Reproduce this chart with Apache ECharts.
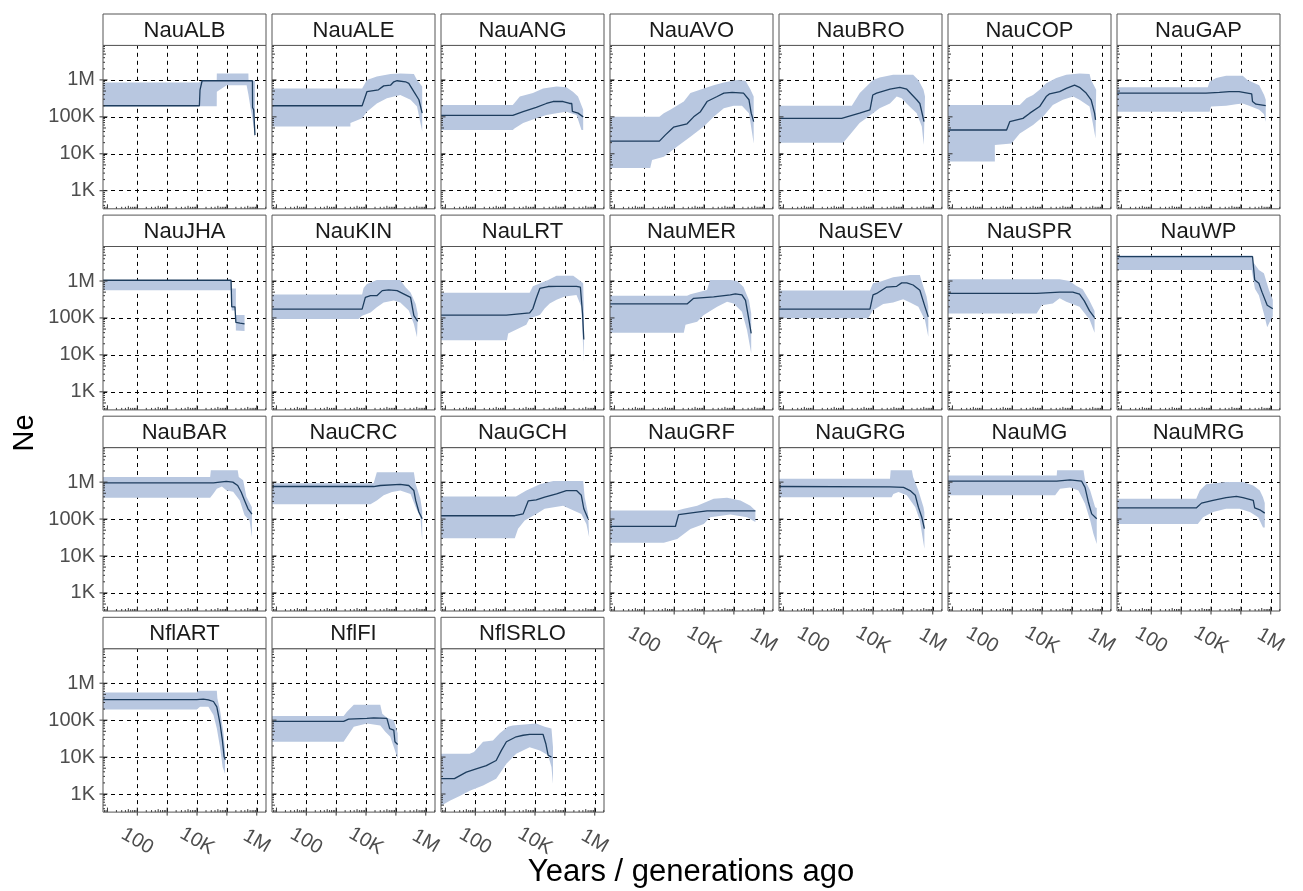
<!DOCTYPE html>
<html><head><meta charset="utf-8">
<script src="https://cdn.jsdelivr.net/npm/echarts@6/dist/echarts.min.js"></script>
<style>html,body{margin:0;padding:0;background:#fff}#chart{width:1303px;height:891px}</style>
</head><body><div id="chart"></div>
<script>
// ---------- axis ranges & tick labels ----------
const X_MIN = 7.1, X_MAX = 2.04e6;
const Y_MIN = 324, Y_MAX = 8.6e6;
const X_GRID = [100, 1e3, 1e4, 1e5, 1e6];
const X_LABELS = {100: '100', 10000: '10K', 1000000: '1M'};
const Y_GRID = [1e3, 1e4, 1e5, 1e6];
const Y_LABELS = {1000: '1K', 10000: '10K', 100000: '100K', 1000000: '1M'};
const LOG_MANTISSA = [1, 2, 3, 4, 5, 6, 7, 8, 9];
const X_TITLE = 'Years / generations ago';
const Y_TITLE = 'Ne';

// ---------- data: [years ago, Ne] ----------
const NauALB_ne = [[7.1,2.0e5],[1.2e4,2.0e5],[1.26e4,5.4e5],[1.48e4,9.5e5],[7.16e5,9.5e5],[7.24e5,1.8e5],[7.9e5,1.55e5],[8.7e5,3.2e4]];
const NauALB_lo = [[7.1,1.95e5],[4.57e4,1.95e5],[4.6e4,4.8e5],[9.8e4,7.2e5],[4.57e5,7.2e5],[5.25e5,4.0e5],[6.3e5,1.6e5],[7.2e5,8.9e4],[7.9e5,5.0e4],[8.7e5,2.8e4]];
const NauALB_hi = [[7.1,8.5e5],[1.2e4,8.5e5],[1.26e4,9.3e5],[4.57e4,1.0e6],[4.6e4,1.5e6],[5.25e5,1.5e6],[5.3e5,1.0e6],[8.7e5,9.5e5]];

const NauALE_ne = [[7.1,2.0e5],[7.4e3,2.0e5],[1.07e4,4.8e5],[2.6e4,5.4e5],[3.9e4,6.9e5],[6.6e4,7.2e5],[8.5e4,8.9e5],[1.1e5,9.5e5],[2.1e5,8.9e5],[2.7e5,8.1e5],[4.0e5,4.8e5],[5.9e5,2.9e5],[7.6e5,1.26e5]];
const NauALE_lo = [[7.1,5.5e4],[3.0e3,5.5e4],[3.0e3,6.8e4],[7.4e3,9.1e4],[1.07e4,1.38e5],[2.3e4,2.3e5],[5.0e4,3.2e5],[1.4e5,3.9e5],[3.1e5,2.9e5],[5.1e5,1.9e5],[7.6e5,4.0e4]];
const NauALE_hi = [[7.1,5.9e5],[7.4e3,5.9e5],[1.07e4,1.0e6],[2.3e4,1.23e6],[6.6e4,1.45e6],[1.4e5,1.5e6],[4.0e5,1.45e6],[5.1e5,1.0e6],[7.6e5,6.6e5]];

const NauANG_ne = [[7.1,1.1e5],[1.8e3,1.1e5],[4.0e3,1.38e5],[1.1e4,1.8e5],[2.4e4,2.3e5],[4.0e4,2.6e5],[8.7e4,2.6e5],[1.45e5,2.3e5],[1.7e5,2.3e5],[1.78e5,1.4e5],[2.75e5,1.26e5],[4.1e5,1.0e5]];
const NauANG_lo = [[7.1,4.4e4],[1.8e3,4.4e4],[2.1e3,4.9e4],[4.0e3,6.8e4],[1.1e4,9.1e4],[2.4e4,1.12e5],[5.25e4,1.26e5],[1.12e5,1.38e5],[2.45e5,1.12e5],[3.6e5,4.4e4],[4.1e5,4.4e4]];
const NauANG_hi = [[7.1,2.1e5],[1.8e3,2.1e5],[3.1e3,3.55e5],[8.5e3,4.4e5],[1.86e4,5.9e5],[5.25e4,6.6e5],[1.12e5,6.3e5],[1.86e5,4.8e5],[2.75e5,3.55e5],[4.1e5,1.55e5]];

const NauAVO_ne = [[7.1,2.2e4],[320,2.2e4],[500,3.2e4],[950,5.25e4],[2.7e3,6.5e4],[4.5e3,1.0e5],[7.6e3,1.38e5],[1.26e4,2.6e5],[2.75e4,3.55e5],[4.6e4,4.4e5],[8.7e4,4.6e5],[2.1e5,4.4e5],[3.2e5,2.9e5],[3.8e5,1.26e5],[4.6e5,7.4e4]];
const NauAVO_lo = [[7.1,4.1e3],[158,4.1e3],[182,6.8e3],[450,8.3e3],[1.23e3,1.55e4],[3.5e3,2.9e4],[9.8e3,5.5e4],[2.1e4,1.0e5],[4.6e4,1.7e5],[9.8e4,2.0e5],[1.86e5,2.0e5],[3.2e5,1.26e5],[4.1e5,3.55e4],[4.6e5,1.9e4]];
const NauAVO_hi = [[7.1,1.0e5],[320,1.0e5],[450,1.26e5],[740,1.55e5],[2.1e3,2.6e5],[3.5e3,4.4e5],[9.8e3,5.9e5],[2.1e4,7.2e5],[4.6e4,8.5e5],[1.3e5,1.0e6],[2.45e5,9.5e5],[3.55e5,5.6e5],[4.6e5,3.55e5]];

const NauBRO_ne = [[7.1,9.1e4],[890,9.1e4],[3.55e3,1.26e5],[7.9e3,1.55e5],[9.8e3,3.9e5],[1.32e4,4.4e5],[3.7e4,5.6e5],[7.9e4,6.3e5],[1.35e5,5.6e5],[2.9e5,2.9e5],[3.7e5,2.3e5],[5.1e5,7.4e4]];
const NauBRO_lo = [[7.1,2.0e4],[1.0e3,2.0e4],[1.82e3,3.55e4],[3.55e3,6.8e4],[1.0e4,1.26e5],[1.66e4,1.7e5],[3.7e4,2.3e5],[6.2e4,3.55e5],[9.1e4,3.2e5],[1.32e5,2.3e5],[2.9e5,1.26e5],[4.3e5,5.5e4],[5.0e5,1.74e4]];
const NauBRO_hi = [[7.1,2.0e5],[1.95e3,2.0e5],[3.6e3,4.4e5],[1.0e4,1.0e6],[1.66e4,1.17e6],[4.7e4,1.38e6],[2.2e5,1.38e6],[3.3e5,1.0e6],[4.9e5,5.4e5],[5.5e5,3.55e5]];

const NauCOP_ne = [[7.1,4.4e4],[650,4.4e4],[830,7.4e4],[2.3e3,9.1e4],[3.9e3,1.26e5],[8.3e3,1.9e5],[1.38e4,3.55e5],[1.8e4,4.2e5],[3.9e4,4.8e5],[6.5e4,5.9e5],[1.23e5,7.2e5],[1.8e5,6.3e5],[3.0e5,4.4e5],[4.4e5,2.9e5],[5.75e5,1.26e5],[6.2e5,8.3e4]];
const NauCOP_lo = [[7.1,6.2e3],[263,6.2e3],[263,1.74e4],[950,1.9e4],[1.8e3,3.55e4],[5.0e3,6.0e4],[1.07e4,1.0e5],[2.3e4,2.1e5],[5.0e4,2.9e5],[1.1e5,3.55e5],[1.8e5,2.9e5],[3.9e5,1.9e5],[5.0e5,6.8e4],[6.2e5,2.6e4]];
const NauCOP_hi = [[7.1,2.1e5],[1.8e3,2.1e5],[3.0e3,3.2e5],[5.0e3,3.9e5],[8.3e3,5.4e5],[1.38e4,8.1e5],[3.0e4,1.12e6],[6.5e4,1.38e6],[1.8e5,1.5e6],[3.9e5,1.45e6],[4.4e5,1.0e6],[6.5e5,5.4e5]];

const NauGAP_ne = [[7.1,4.4e5],[6.8e3,4.4e5],[1.9e4,4.6e5],[4.1e4,4.8e5],[8.7e4,4.8e5],[1.66e5,4.4e5],[2.3e5,4.2e5],[2.45e5,2.6e5],[3.2e5,2.2e5],[6.8e5,2.0e5]];
const NauGAP_lo = [[7.1,1.38e5],[8.9e3,1.38e5],[1.0e4,1.9e5],[3.2e4,2.0e5],[6.9e4,2.2e5],[1.15e5,2.3e5],[1.9e5,2.0e5],[4.1e5,1.55e5],[5.9e5,1.2e5],[6.8e5,7.4e4]];
const NauGAP_hi = [[7.1,6.3e5],[7.8e3,6.3e5],[8.9e3,8.9e5],[1.48e4,1.12e6],[3.2e4,1.29e6],[1.15e5,1.29e6],[1.66e5,1.0e6],[4.1e5,7.2e5],[6.0e5,3.9e5],[6.8e5,2.9e5]];

const NauJHA_ne = [[7.1,1.05e6],[1.38e5,1.05e6],[1.45e5,2.0e5],[1.86e5,2.0e5],[2.0e5,7.6e4],[2.75e5,7.2e4],[3.9e5,6.9e4]];
const NauJHA_lo = [[7.1,5.6e5],[1.38e5,5.6e5],[1.45e5,1.58e5],[1.95e5,1.58e5],[2.0e5,4.6e4],[3.9e5,4.4e4]];
const NauJHA_hi = [[7.1,1.05e6],[1.38e5,1.05e6],[1.45e5,6.3e5],[2.0e5,6.3e5],[2.0e5,1.2e5],[3.9e5,1.2e5]];

const NauKIN_ne = [[7.1,1.74e5],[7.4e3,1.74e5],[9.5e3,3.6e5],[1.41e4,4.0e5],[2.3e4,4.0e5],[3.5e4,5.5e5],[5.75e4,5.75e5],[1.1e5,5.5e5],[1.8e5,4.5e5],[3.1e5,3.6e5],[4.0e5,1.15e5],[5.4e5,8.1e4]];
const NauKIN_lo = [[7.1,9.3e4],[5.6e3,9.3e4],[7.4e3,1.15e5],[1.41e4,1.41e5],[2.3e4,1.95e5],[3.9e4,2.6e5],[8.5e4,2.95e5],[1.4e5,2.6e5],[2.7e5,1.58e5],[4.0e5,6.9e4],[5.1e5,3.0e4]];
const NauKIN_hi = [[7.1,4.3e5],[7.4e3,4.3e5],[8.3e3,6.5e5],[1.07e4,8.3e5],[2.3e4,1.07e6],[1.4e5,1.07e6],[2.1e5,6.8e5],[3.1e5,4.9e5],[4.6e5,2.4e5],[5.4e5,1.3e5]];

const NauLRT_ne = [[7.1,1.2e5],[1.1e3,1.2e5],[1.26e3,1.26e5],[6.6e3,1.38e5],[8.5e3,1.8e5],[1.1e4,3.4e5],[1.45e4,6.3e5],[2.75e4,7.1e5],[5.25e4,7.2e5],[2.45e5,7.2e5],[3.3e5,6.8e5],[3.9e5,1.32e5],[4.3e5,2.6e4]];
const NauLRT_lo = [[7.1,2.5e4],[1.15e3,2.5e4],[1.26e3,3.8e4],[5.1e3,6.5e4],[6.6e3,9.8e4],[1.45e4,1.2e5],[2.1e4,1.8e5],[3.1e4,2.45e5],[5.25e4,3.1e5],[9.8e4,3.8e5],[2.45e5,4.2e5],[3.55e5,2.0e5],[4.3e5,6.5e3]];
const NauLRT_hi = [[7.1,4.8e5],[6.6e3,4.8e5],[8.5e3,7.2e5],[2.75e4,1.07e6],[5.25e4,1.38e6],[1.9e5,1.38e6],[2.75e5,1.12e6],[4.1e5,8.7e5],[4.3e5,2.0e5]];

const NauMER_ne = [[7.1,2.4e5],[2.7e3,2.4e5],[4.5e3,3.4e5],[2.1e4,3.7e5],[7.6e4,4.2e5],[1.12e5,4.5e5],[1.86e5,4.2e5],[2.45e5,3.0e5],[3.2e5,8.7e4],[3.8e5,3.8e4]];
const NauMER_lo = [[7.1,4.0e4],[2.1e3,4.0e4],[2.4e3,6.5e4],[5.9e3,7.9e4],[9.8e3,1.2e5],[2.75e4,2.0e5],[5.9e4,2.75e5],[9.8e4,2.45e5],[1.86e5,1.48e5],[2.75e5,4.7e4],[3.8e5,1.1e4]];
const NauMER_hi = [[7.1,4.0e5],[2.7e3,4.0e5],[3.5e3,4.4e5],[1.26e4,5.75e5],[1.6e4,1.07e6],[7.6e4,1.07e6],[1.3e5,1.0e6],[2.1e5,6.9e5],[3.2e5,3.0e5],[3.8e5,1.32e5]];

const NauSEV_ne = [[7.1,1.74e5],[7.9e3,1.74e5],[1.0e4,4.2e5],[1.32e4,4.6e5],[2.8e4,6.8e5],[6.2e4,7.2e5],[9.1e4,8.9e5],[1.35e5,8.9e5],[2.2e5,7.8e5],[3.7e5,5.6e5],[5.5e5,2.0e5],[7.1e5,1.07e5]];
const NauSEV_lo = [[7.1,9.8e4],[6.9e3,9.8e4],[1.0e4,1.62e5],[2.2e4,2.4e5],[4.7e4,2.6e5],[1.02e5,3.2e5],[1.74e5,2.6e5],[3.3e5,2.0e5],[5.5e5,8.7e4],[7.1e5,3.1e4]];
const NauSEV_hi = [[7.1,5.5e5],[7.9e3,5.5e5],[1.0e4,8.7e5],[1.7e4,9.5e5],[4.7e4,1.26e6],[1.74e5,1.45e6],[3.7e5,1.45e6],[4.3e5,9.5e5],[6.2e5,3.8e5],[7.1e5,2.0e5]];

const NauSPR_ne = [[7.1,4.6e5],[6.6e3,4.6e5],[3.9e4,5.0e5],[1.07e5,5.0e5],[1.8e5,4.4e5],[2.6e5,2.9e5],[3.9e5,1.55e5],[5.75e5,1.02e5]];
const NauSPR_lo = [[7.1,1.32e5],[6.6e3,1.32e5],[9.8e3,2.2e5],[2.3e4,2.45e5],[3.9e4,3.4e5],[6.5e4,2.75e5],[1.8e5,2.0e5],[3.9e5,9.1e4],[5.75e5,4.0e4]];
const NauSPR_hi = [[7.1,1.12e6],[3.9e4,1.12e6],[8.3e4,1.0e6],[1.38e5,7.4e5],[2.3e5,6.0e5],[3.9e5,2.9e5],[5.75e5,1.55e5]];

const NauWP_ne = [[7.1,4.6e6],[2.45e5,4.6e6],[2.9e5,1.07e6],[4.0e5,8.7e5],[5.1e5,5.0e5],[7.6e5,2.2e5],[1.17e6,1.78e5]];
const NauWP_lo = [[7.1,2.0e6],[2.3e5,2.0e6],[2.95e5,6.2e5],[4.0e5,4.1e5],[5.9e5,1.3e5],[7.6e5,5.6e4],[1.0e6,8.9e4],[1.17e6,1.12e5]];
const NauWP_hi = [[7.1,4.9e6],[2.45e5,4.9e6],[2.6e5,3.2e6],[4.0e5,2.0e6],[5.9e5,1.62e6],[8.7e5,5.75e5],[1.17e6,3.1e5]];

const NauBAR_ne = [[7.1,9.5e5],[3.55e4,9.5e5],[9.5e4,1.05e6],[1.58e5,1.0e6],[2.3e5,8.1e5],[3.0e5,5.4e5],[3.9e5,3.2e5],[5.1e5,1.9e5],[6.9e5,1.35e5]];
const NauBAR_lo = [[7.1,3.8e5],[2.75e4,3.8e5],[3.55e4,4.9e5],[4.6e4,6.6e5],[6.8e4,7.6e5],[9.8e4,5.9e5],[1.62e5,5.5e5],[2.7e5,3.2e5],[3.9e5,1.26e5],[5.75e5,9.1e4],[6.9e5,3.2e4]];
const NauBAR_hi = [[7.1,1.38e6],[2.75e4,1.38e6],[2.9e4,2.1e6],[2.3e5,2.1e6],[2.5e5,1.38e6],[3.5e5,1.12e6],[4.5e5,4.0e5],[6.9e5,2.1e5]];

const NauCRC_ne = [[7.1,7.6e5],[1.8e4,7.6e5],[3.0e4,8.1e5],[1.4e5,8.7e5],[2.7e5,8.1e5],[4.0e5,5.9e5],[4.6e5,3.2e5],[5.9e5,1.55e5],[7.6e5,1.02e5]];
const NauCRC_lo = [[7.1,2.5e5],[1.41e4,2.5e5],[2.3e4,3.2e5],[3.9e4,4.4e5],[7.4e4,5.4e5],[1.4e5,5.9e5],[3.1e5,4.8e5],[4.6e5,2.1e5],[6.6e5,1.12e5],[7.6e5,2.6e4]];
const NauCRC_hi = [[7.1,9.3e5],[1.8e4,9.3e5],[2.3e4,1.86e6],[4.0e5,1.86e6],[4.6e5,8.9e5],[6.6e5,3.55e5],[7.6e5,1.7e5]];

const NauGCH_ne = [[7.1,1.23e5],[2.1e3,1.23e5],[4.0e3,1.38e5],[5.9e3,3.1e5],[1.1e4,3.3e5],[2.1e4,3.9e5],[5.25e4,4.8e5],[1.12e5,5.9e5],[2.45e5,5.9e5],[3.55e5,4.4e5],[4.3e5,1.9e5],[6.0e5,1.02e5]];
const NauGCH_lo = [[7.1,3.0e4],[2.1e3,3.0e4],[2.7e3,5.5e4],[4.5e3,9.1e4],[1.1e4,1.38e5],[2.1e4,1.9e5],[8.7e4,2.3e5],[1.45e5,1.9e5],[3.55e5,1.38e5],[5.25e5,7.4e4],[6.5e5,3.2e4]];
const NauGCH_hi = [[7.1,4.1e5],[2.3e3,4.1e5],[5.1e3,5.9e5],[1.45e4,8.7e5],[4.1e4,1.07e6],[4.1e5,1.07e6],[4.6e5,3.9e5],[6.0e5,1.38e5]];

const NauGRF_ne = [[7.1,6.3e4],[1.1e3,6.3e4],[1.41e3,1.32e5],[5.9e3,1.55e5],[1.26e4,1.66e5],[7.6e4,1.66e5],[5.25e5,1.66e5]];
const NauGRF_lo = [[7.1,2.3e4],[450,2.3e4],[1.26e3,2.9e4],[3.5e3,5.4e4],[9.8e3,7.4e4],[1.6e4,1.12e5],[7.6e4,1.32e5],[2.75e5,1.12e5],[5.25e5,8.3e4]];
const NauGRF_hi = [[7.1,1.7e5],[1.26e3,1.7e5],[2.1e3,1.9e5],[5.9e3,2.3e5],[2.1e4,3.55e5],[5.9e4,3.8e5],[1.66e5,3.2e5],[3.55e5,2.3e5],[5.25e5,1.7e5]];

const NauGRG_ne = [[7.1,7.6e5],[3.7e4,7.4e5],[1.05e5,7.2e5],[1.74e5,5.9e5],[2.6e5,4.4e5],[3.3e5,2.1e5],[4.3e5,1.12e5],[5.25e5,5.5e4]];
const NauGRG_lo = [[7.1,3.9e5],[4.2e4,3.9e5],[4.8e4,4.8e5],[7.1e4,5.4e5],[1.35e5,4.4e5],[2.6e5,2.1e5],[3.7e5,9.1e4],[5.25e5,1.58e4]];
const NauGRG_hi = [[7.1,1.23e6],[3.7e4,1.23e6],[3.9e4,2.1e6],[2.0e5,2.1e6],[2.2e5,1.38e6],[3.3e5,5.9e5],[4.9e5,2.1e5],[5.25e5,1.5e5]];

const NauMG_ne = [[7.1,1.07e6],[3.1e4,1.07e6],[8.7e4,1.15e6],[2.1e5,1.07e6],[2.75e5,7.2e5],[3.55e5,2.9e5],[4.6e5,1.38e5],[6.8e5,1.02e5]];
const NauMG_lo = [[7.1,4.4e5],[2.75e4,4.4e5],[4.0e4,6.6e5],[8.7e4,7.2e5],[1.66e5,5.9e5],[2.75e5,2.6e5],[4.1e5,9.1e4],[5.25e5,4.0e4],[6.8e5,2.1e4]];
const NauMG_hi = [[7.1,1.5e6],[3.1e4,1.5e6],[3.2e4,2.1e6],[2.45e5,2.1e6],[2.75e5,1.12e6],[4.1e5,5.9e5],[6.0e5,2.1e5],[6.8e5,2.0e5]];

const NauMRG_ne = [[7.1,2.0e5],[3.2e3,2.0e5],[4.8e3,2.7e5],[1.17e4,3.2e5],[3.2e4,3.8e5],[7.1e4,4.1e5],[1.17e5,3.8e5],[2.6e5,3.2e5],[2.9e5,2.0e5],[4.3e5,1.78e5],[6.3e5,1.45e5]];
const NauMRG_lo = [[7.1,7.4e4],[3.6e3,7.4e4],[5.4e3,1.12e5],[1.17e4,1.55e5],[3.2e4,1.9e5],[9.1e4,1.9e5],[2.0e5,1.55e5],[3.8e5,1.12e5],[5.5e5,5.9e4],[6.3e5,5.9e4]];
const NauMRG_hi = [[7.1,3.55e5],[3.2e3,3.55e5],[4.2e3,5.9e5],[6.9e3,8.7e5],[3.2e4,1.0e6],[1.17e5,1.0e6],[2.6e5,8.1e5],[4.3e5,5.9e5],[5.5e5,3.9e5],[6.3e5,2.7e5]];

const NflART_ne = [[7.1,3.6e5],[9.8e3,3.6e5],[1.62e4,3.7e5],[2.4e4,3.55e5],[3.55e4,3.2e5],[4.6e4,2.3e5],[5.9e4,8.1e4],[7.1e4,2.8e4],[8.1e4,1.0e4],[8.9e4,8.5e3]];
const NflART_lo = [[7.1,1.95e5],[9.8e3,1.95e5],[1.26e4,2.3e5],[2.4e4,2.3e5],[3.55e4,1.38e5],[4.6e4,5.9e4],[5.9e4,1.86e4],[7.2e4,5.4e3],[8.7e4,3.55e3]];
const NflART_hi = [[7.1,5.6e5],[9.8e3,5.6e5],[1.1e4,6.3e5],[4.6e4,6.3e5],[4.8e4,3.9e5],[5.9e4,1.86e5],[7.6e4,4.8e4],[8.7e4,1.5e4]];

const NflFI_ne = [[7.1,9.3e4],[1.78e3,9.3e4],[2.6e3,1.07e5],[1.07e4,1.12e5],[1.8e4,1.15e5],[5.0e4,1.12e5],[6.2e4,5.9e4],[8.5e4,5.4e4],[9.3e4,2.6e4],[1.15e5,2.2e4]];
const NflFI_lo = [[7.1,2.6e4],[1.78e3,2.6e4],[2.3e3,3.55e4],[3.9e3,6.6e4],[1.07e4,8.1e4],[3.0e4,7.2e4],[4.5e4,4.8e4],[6.5e4,3.55e4],[9.3e4,1.5e4],[1.15e5,8.9e3]];
const NflFI_hi = [[7.1,1.3e5],[1.78e3,1.3e5],[2.3e3,1.7e5],[3.9e3,2.6e5],[3.0e4,2.6e5],[3.5e4,1.5e5],[5.0e4,1.17e5],[8.5e4,1.0e5],[1.15e5,4.4e4]];

const NflSRLO_ne = [[7.1,2.6e3],[20,2.6e3],[50,3.9e3],[107,4.8e3],[234,5.9e3],[500,8.1e3],[740,1.5e4],[1.1e3,2.6e4],[2.34e3,3.55e4],[4.0e3,3.9e4],[6.6e3,4.1e4],[1.86e4,4.1e4],[2.1e4,3.9e4],[2.3e4,2.3e4],[2.75e4,1.12e4],[3.55e4,1.0e4]];
const NflSRLO_lo = [[7.1,480],[14,660],[30,890],[65,1.23e3],[182,1.7e3],[500,2.6e3],[1.1e3,6.6e3],[2.34e3,1.23e4],[6.6e3,1.86e4],[1.45e4,1.51e4],[2.75e4,1.12e4],[3.55e4,5.4e3],[4.0e4,1.86e3]];
const NflSRLO_hi = [[7.1,1.23e4],[65,1.23e4],[90,1.38e4],[182,2.6e4],[390,2.8e4],[660,4.4e4],[1.23e3,6.6e4],[1.8e3,7.2e4],[1.1e4,8.1e4],[2.1e4,6.6e4],[3.55e4,5.9e4],[4.0e4,1.86e4]];

const PANELS = [
  ['NauALB', NauALB_ne, NauALB_lo, NauALB_hi],
  ['NauALE', NauALE_ne, NauALE_lo, NauALE_hi],
  ['NauANG', NauANG_ne, NauANG_lo, NauANG_hi],
  ['NauAVO', NauAVO_ne, NauAVO_lo, NauAVO_hi],
  ['NauBRO', NauBRO_ne, NauBRO_lo, NauBRO_hi],
  ['NauCOP', NauCOP_ne, NauCOP_lo, NauCOP_hi],
  ['NauGAP', NauGAP_ne, NauGAP_lo, NauGAP_hi],
  ['NauJHA', NauJHA_ne, NauJHA_lo, NauJHA_hi],
  ['NauKIN', NauKIN_ne, NauKIN_lo, NauKIN_hi],
  ['NauLRT', NauLRT_ne, NauLRT_lo, NauLRT_hi],
  ['NauMER', NauMER_ne, NauMER_lo, NauMER_hi],
  ['NauSEV', NauSEV_ne, NauSEV_lo, NauSEV_hi],
  ['NauSPR', NauSPR_ne, NauSPR_lo, NauSPR_hi],
  ['NauWP', NauWP_ne, NauWP_lo, NauWP_hi],
  ['NauBAR', NauBAR_ne, NauBAR_lo, NauBAR_hi],
  ['NauCRC', NauCRC_ne, NauCRC_lo, NauCRC_hi],
  ['NauGCH', NauGCH_ne, NauGCH_lo, NauGCH_hi],
  ['NauGRF', NauGRF_ne, NauGRF_lo, NauGRF_hi],
  ['NauGRG', NauGRG_ne, NauGRG_lo, NauGRG_hi],
  ['NauMG', NauMG_ne, NauMG_lo, NauMG_hi],
  ['NauMRG', NauMRG_ne, NauMRG_lo, NauMRG_hi],
  ['NflART', NflART_ne, NflART_lo, NflART_hi],
  ['NflFI', NflFI_ne, NflFI_lo, NflFI_hi],
  ['NflSRLO', NflSRLO_ne, NflSRLO_lo, NflSRLO_hi]
];

// ---------- layout & style ----------
const FONT = "'Liberation Sans', Arial, Helvetica, sans-serif";
const NCOL = 7;
const COL_X0 = 103, COL_STEP = 169, PANEL_W = 163;
const ROW_Y0 = 14, ROW_STEP = 201.1, STRIP_H = 31.4, PLOT_H = 163.4;
const BAND_COLOR = '#b8c7e0', LINE_COLOR = '#1d3d5e', BORDER = '#555555', TICK = '#333333';

function lookup(map, v) {
  for (const k in map) { if (Math.abs(v / Number(k) - 1) < 1e-6) return map[k]; }
  return '';
}
function tickLen(v) {
  const m = Math.round(v / Math.pow(10, Math.floor(Math.log10(v) + 1e-9)));
  return m === 1 ? 4.5 : (m === 5 ? 3 : 2);
}

function renderBand(params, api) {
  if (params.dataIndexInside !== 0) return null;
  const pts = [];
  for (let j = 0; j < params.dataInsideLength; j++) {
    pts.push(api.coord([api.value(0, j), api.value(1, j)]));
  }
  return { type: 'polygon', shape: { points: pts }, style: { fill: BAND_COLOR } };
}
function renderTick(params, api) {
  const cs = params.coordSys;
  const kind = api.value(2);
  const p = api.coord([api.value(0), api.value(1)]);
  const bottom = cs.y + cs.height, left = cs.x;
  let shape;
  if (kind === 0) { const L = tickLen(api.value(0)); shape = { x1: p[0], y1: bottom, x2: p[0], y2: bottom - L }; }
  else if (kind === 1) { const L = tickLen(api.value(1)); shape = { x1: left, y1: p[1], x2: left + L, y2: p[1] }; }
  else if (kind === 2) { shape = { x1: p[0], y1: bottom, x2: p[0], y2: bottom + 3.5 }; }
  else { shape = { x1: left, y1: p[1], x2: left - 3.5, y2: p[1] }; }
  return { type: 'line', shape: shape, style: { stroke: TICK, lineWidth: 1 } };
}

const grids = [], xAxes = [], yAxes = [], series = [], graphics = [];
PANELS.forEach(function (panel, i) {
  const name = panel[0], ne = panel[1], lo = panel[2], hi = panel[3];
  const col = i % NCOL, row = Math.floor(i / NCOL);
  const left = COL_X0 + COL_STEP * col;
  const stripTop = ROW_Y0 + ROW_STEP * row;
  const top = stripTop + STRIP_H;
  const showX = i + NCOL >= PANELS.length;
  const showY = col === 0;

  grids.push({ left: left, top: top, width: PANEL_W, height: PLOT_H, containLabel: false,
    show: true, backgroundColor: 'transparent', borderColor: BORDER, borderWidth: 1, z: 10 });
  xAxes.push({ type: 'log', logBase: 10, gridIndex: i, min: X_MIN, max: X_MAX,
    axisLine: { show: false }, axisTick: { show: false }, splitLine: { show: false }, minorTick: { show: false },
    axisLabel: { show: showX, rotate: -30, align: 'center', verticalAlign: 'middle', margin: 29,
      fontSize: 20, color: '#4d4d4d', fontFamily: FONT, formatter: function (v) { return lookup(X_LABELS, v); } } });
  yAxes.push({ type: 'log', logBase: 10, gridIndex: i, min: Y_MIN, max: Y_MAX,
    axisLine: { show: false }, axisTick: { show: false }, splitLine: { show: false }, minorTick: { show: false },
    axisLabel: { show: showY, margin: 8, fontSize: 20, color: '#4d4d4d', fontFamily: FONT,
      formatter: function (v) { return lookup(Y_LABELS, v); } } });

  // confidence band
  series.push({ type: 'custom', xAxisIndex: i, yAxisIndex: i, z: 2, silent: true, animation: false,
    renderItem: renderBand, encode: { x: 0, y: 1 }, data: hi.concat(lo.slice().reverse()) });
  // median Ne line + dashed grid lines
  series.push({ type: 'line', xAxisIndex: i, yAxisIndex: i, z: 3, silent: true, animation: false,
    data: ne, showSymbol: false, symbol: 'none', lineStyle: { color: LINE_COLOR, width: 1.3 },
    markLine: { silent: true, symbol: 'none', z: 1, animation: false, label: { show: false },
      lineStyle: { color: '#000', type: [4, 4], width: 1 }, emphasis: { disabled: true },
      data: X_GRID.map(function (v) { return { xAxis: v }; }).concat(Y_GRID.map(function (v) { return { yAxis: v }; })) } });
  // log ticks (inside) + axis ticks (outside)
  const ticks = [];
  for (let d = 0; d <= 6; d++) LOG_MANTISSA.forEach(function (m) {
    const v = m * Math.pow(10, d); if (v >= X_MIN && v <= X_MAX) ticks.push([v, 1e4, 0]); });
  for (let d = 2; d <= 6; d++) LOG_MANTISSA.forEach(function (m) {
    const v = m * Math.pow(10, d); if (v >= Y_MIN && v <= Y_MAX) ticks.push([1e3, v, 1]); });
  if (showX) X_GRID.forEach(function (v) { ticks.push([v, 1e4, 2]); });
  if (showY) Y_GRID.forEach(function (v) { ticks.push([1e3, v, 3]); });
  series.push({ type: 'custom', xAxisIndex: i, yAxisIndex: i, z: 4, silent: true, animation: false,
    renderItem: renderTick, encode: { x: 0, y: 1 }, data: ticks });

  // strip
  graphics.push({ type: 'rect', z: 20, silent: true,
    shape: { x: left, y: stripTop, width: PANEL_W, height: STRIP_H },
    style: { fill: '#ffffff', stroke: BORDER, lineWidth: 1 } });
  graphics.push({ type: 'text', z: 21, silent: true, x: left + PANEL_W / 2, y: stripTop + STRIP_H / 2 + 1,
    style: { text: name, font: '22px ' + FONT, fill: '#1a1a1a', align: 'center', verticalAlign: 'middle' } });
});

graphics.push({ type: 'text', z: 21, silent: true, x: 691, y: 872,
  style: { text: X_TITLE, font: '31px ' + FONT, fill: '#000', align: 'center', verticalAlign: 'middle' } });
graphics.push({ type: 'text', z: 21, silent: true, x: 25, y: 433, rotation: Math.PI / 2,
  style: { text: Y_TITLE, font: '29px ' + FONT, fill: '#000', align: 'center', verticalAlign: 'middle' } });

const chart = echarts.init(document.getElementById('chart'), null, { renderer: 'canvas' });
chart.setOption({
  backgroundColor: '#ffffff',
  animation: false,
  textStyle: { fontFamily: FONT },
  grid: grids, xAxis: xAxes, yAxis: yAxes, series: series,
  graphic: { elements: graphics }
});
</script>
</body></html>
